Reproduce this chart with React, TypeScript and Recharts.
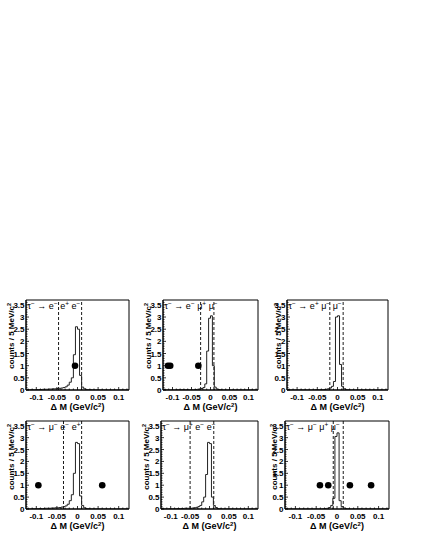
import React from "react";
import { ComposedChart, Line, Scatter, XAxis, YAxis, ReferenceLine, ReferenceArea } from "recharts";

const FONT = "'Liberation Sans', Arial, Helvetica, sans-serif";

// histogram bins: 5 MeV/c^2 wide, first bin starts at -0.125 GeV/c^2
const BIN_START = -0.125;
const BIN_WIDTH = 0.005;

// signal MC shapes (50 bins each)
const HIST_EEE = [
  0, 0, 0.01, 0.01, 0.01, 0.02, 0.02, 0.02, 0.03, 0.03,
  0.03, 0.04, 0.04, 0.05, 0.05, 0.06, 0.07, 0.08, 0.1, 0.13,
  0.2, 0.32, 0.5, 1.45, 2.6, 2.5, 0.6, 0.12, 0.05, 0.02,
  0.01, 0.01, 0, 0, 0, 0, 0, 0, 0, 0,
  0, 0, 0, 0, 0, 0, 0, 0, 0, 0,
];
const HIST_EMM = [
  0, 0, 0, 0, 0, 0, 0, 0.01, 0.01, 0.01,
  0.01, 0.01, 0.01, 0.01, 0.01, 0.01, 0.01, 0.02, 0.03, 0.04,
  0.06, 0.1, 0.25, 1.6, 2.95, 3.05, 1.0, 0.12, 0.04, 0.02,
  0.01, 0, 0, 0, 0, 0, 0, 0, 0, 0,
  0, 0, 0, 0, 0, 0, 0, 0, 0, 0,
];
const HIST_EPMM = [
  0, 0, 0, 0, 0, 0, 0, 0, 0, 0,
  0, 0, 0, 0, 0.01, 0.01, 0.01, 0.01, 0.02, 0.03,
  0.05, 0.08, 0.15, 0.35, 3.0, 3.05, 1.05, 0.15, 0.05, 0.02,
  0.01, 0, 0, 0, 0, 0, 0, 0, 0, 0,
  0, 0, 0, 0, 0, 0, 0, 0, 0, 0,
];
const HIST_MEE = [
  0, 0, 0, 0.01, 0.01, 0.01, 0.02, 0.02, 0.02, 0.03,
  0.03, 0.03, 0.04, 0.04, 0.05, 0.05, 0.06, 0.08, 0.1, 0.13,
  0.2, 0.35, 0.6, 1.5, 2.8, 2.75, 0.55, 0.15, 0.05, 0.02,
  0.01, 0, 0, 0, 0, 0, 0, 0, 0, 0,
  0, 0, 0, 0, 0, 0, 0, 0, 0, 0,
];
const HIST_MPEE = [
  0, 0, 0, 0, 0.01, 0.01, 0.01, 0.01, 0.02, 0.02,
  0.02, 0.02, 0.03, 0.03, 0.03, 0.03, 0.04, 0.05, 0.07, 0.1,
  0.15, 0.3, 0.5, 1.45, 2.8, 2.75, 0.5, 0.15, 0.06, 0.02,
  0.01, 0, 0, 0, 0, 0, 0, 0, 0, 0,
  0, 0, 0, 0, 0, 0, 0, 0, 0, 0,
];
const HIST_MMM = [
  0, 0, 0, 0, 0, 0, 0, 0, 0, 0,
  0, 0, 0, 0, 0, 0, 0, 0, 0.01, 0.02,
  0.03, 0.06, 0.15, 0.45, 3.05, 3.2, 0.35, 0.1, 0.04, 0.02,
  0.01, 0, 0, 0, 0, 0, 0, 0, 0, 0,
  0, 0, 0, 0, 0, 0, 0, 0, 0, 0,
];

// observed events (delta M, counts)
const EVENTS_EEE = [{ dm: -0.006, n: 1 }];
const EVENTS_EMM = [{ dm: -0.112, n: 1 }, { dm: -0.106, n: 1 }, { dm: -0.032, n: 1 }];
const EVENTS_EPMM: { dm: number; n: number }[] = [];
const EVENTS_MEE = [{ dm: -0.095, n: 1 }, { dm: 0.06, n: 1 }];
const EVENTS_MPEE: { dm: number; n: number }[] = [];
const EVENTS_MMM = [{ dm: -0.041, n: 1 }, { dm: -0.021, n: 1 }, { dm: 0.031, n: 1 }, { dm: 0.082, n: 1 }];

// signal region boundaries
const CUTS_EEE = [-0.046, 0.01];
const CUTS_EMM = [-0.026, 0.009];
const CUTS_EPMM = [-0.019, 0.014];
const CUTS_MEE = [-0.034, 0.01];
const CUTS_MPEE = [-0.05, 0.011];
const CUTS_MMM = [-0.009, 0.015];

// titles: [particle, charge]
const TITLE_EEE = [["τ", "-"], ["→", ""], ["e", "-"], ["e", "+"], ["e", "-"]];
const TITLE_EMM = [["τ", "-"], ["→", ""], ["e", "-"], ["μ", "+"], ["μ", "-"]];
const TITLE_EPMM = [["τ", "-"], ["→", ""], ["e", "+"], ["μ", "-"], ["μ", "-"]];
const TITLE_MEE = [["τ", "-"], ["→", ""], ["μ", "-"], ["e", "-"], ["e", "+"]];
const TITLE_MPEE = [["τ", "-"], ["→", ""], ["μ", "+"], ["e", "-"], ["e", "-"]];
const TITLE_MMM = [["τ", "-"], ["→", ""], ["μ", "-"], ["μ", "+"], ["μ", "-"]];

const X_DOMAIN = [-0.125, 0.125];
const Y_DOMAIN = [0, 3.7];
const X_TICKS = Array.from({ length: 25 }, (_, i) => Math.round((i - 12) * 10) / 1000);
const Y_TICKS = Array.from({ length: 37 }, (_, i) => i / 10);

const PAD_L = 30;
const PAD_T = 12;
const PAD_R = 8;
const PAD_B = 28;

const PANELS = [
  { left: 26, top: 300, w: 103, h: 90, hist: HIST_EEE, events: EVENTS_EEE, cuts: CUTS_EEE, title: TITLE_EEE, yOff: 12 },
  { left: 163, top: 300, w: 95, h: 90, hist: HIST_EMM, events: EVENTS_EMM, cuts: CUTS_EMM, title: TITLE_EMM, yOff: 12 },
  { left: 287, top: 300, w: 101, h: 90, hist: HIST_EPMM, events: EVENTS_EPMM, cuts: CUTS_EPMM, title: TITLE_EPMM, yOff: 6 },
  { left: 26, top: 421, w: 103, h: 88, hist: HIST_MEE, events: EVENTS_MEE, cuts: CUTS_MEE, title: TITLE_MEE, yOff: 12 },
  { left: 161, top: 421, w: 97, h: 88, hist: HIST_MPEE, events: EVENTS_MPEE, cuts: CUTS_MPEE, title: TITLE_MPEE, yOff: 12 },
  { left: 285, top: 421, w: 104, h: 88, hist: HIST_MMM, events: EVENTS_MMM, cuts: CUTS_MMM, title: TITLE_MMM, yOff: 8 },
];

const fmt = (v: number) => String(Math.round(v * 1000) / 1000);

const XTick = (props: any) => {
  const { x, y, payload } = props;
  const v = payload.value;
  const major = Math.abs(v * 20 - Math.round(v * 20)) < 1e-6;
  return (
    <g>
      <line x1={x} x2={x} y1={y} y2={y - (major ? 3 : 1.5)} stroke="#000" strokeWidth={0.8} />
      {major && (
        <text x={x} y={y + 10} textAnchor="middle" fontSize={8} fontWeight="bold" fontFamily={FONT} fill="#000">
          {fmt(v)}
        </text>
      )}
    </g>
  );
};

const YTick = (props: any) => {
  const { x, y, payload } = props;
  const v = payload.value;
  const major = Math.abs(v * 2 - Math.round(v * 2)) < 1e-6;
  return (
    <g>
      <line x1={x} x2={x + (major ? 3 : 1.5)} y1={y} y2={y} stroke="#000" strokeWidth={0.8} />
      {major && (
        <text x={x - 1.5} y={y + 3} textAnchor="end" fontSize={8} fontWeight="bold" fontFamily={FONT} fill="#000">
          {fmt(v)}
        </text>
      )}
    </g>
  );
};

// title with raised charge signs; every base glyph carries its own baseline reset
const titleSpans = (parts: string[][]) => {
  const out: React.ReactNode[] = [];
  let raised = false;
  parts.forEach(([b, s], i) => {
    out.push(
      <tspan key={"b" + i} dy={raised ? 3.5 : 0} dx={i > 0 ? 2.5 : 0}>
        {b}
      </tspan>
    );
    raised = false;
    if (s) {
      out.push(
        <tspan key={"s" + i} dy={-3.5} fontSize={6.5}>
          {s === "-" ? "−" : "+"}
        </tspan>
      );
      raised = true;
    }
  });
  return out;
};

const Panel = ({ cfg }: { cfg: any }) => {
  const hist = cfg.hist.map((v: number, i: number) => ({ x: BIN_START + i * BIN_WIDTH, y: v }));
  hist.push({ x: BIN_START + cfg.hist.length * BIN_WIDTH, y: cfg.hist[cfg.hist.length - 1] });
  const pts = cfg.events.map((e: any) => ({ x: e.dm, y: e.n }));

  const texts = (p: any) => {
    const vb = p.viewBox;
    return (
      <g>
        <text x={vb.x + 1.5} y={vb.y + 9} textAnchor="start" fontSize={9} fontFamily={FONT} fill="#000">
          {titleSpans(cfg.title)}
        </text>
        <text
          transform={`translate(${vb.x - cfg.yOff}, ${vb.y + 3}) rotate(-90)`}
          textAnchor="end"
          fontSize={8}
          fontWeight="bold"
          fontFamily={FONT}
          fill="#000"
        >
          <tspan>counts / 5 MeV/c</tspan>
          <tspan dy={-3} fontSize={5.5}>2</tspan>
        </text>
        <text
          x={vb.x + vb.width / 2}
          y={vb.y + vb.height + 20}
          textAnchor="middle"
          fontSize={9}
          fontWeight="bold"
          fontFamily={FONT}
          fill="#000"
        >
          <tspan>Δ M (GeV/c</tspan>
          <tspan dy={-3} fontSize={6}>2</tspan>
          <tspan dy={3}>)</tspan>
        </text>
      </g>
    );
  };

  return (
    <div style={{ position: "absolute", left: cfg.left - PAD_L, top: cfg.top - PAD_T }}>
      <ComposedChart
        width={cfg.w + PAD_L + PAD_R}
        height={cfg.h + PAD_T + PAD_B}
        margin={{ top: PAD_T, right: PAD_R, bottom: 0, left: 0 }}
      >
        <XAxis
          type="number"
          dataKey="x"
          domain={X_DOMAIN}
          ticks={X_TICKS}
          interval={0}
          allowDataOverflow
          height={PAD_B}
          tickSize={0}
          tickMargin={0}
          tickLine={false}
          axisLine={{ stroke: "#000" }}
          tick={(p: any) => <XTick {...p} />}
        />
        <YAxis
          type="number"
          domain={Y_DOMAIN}
          ticks={Y_TICKS}
          interval={0}
          allowDataOverflow
          width={PAD_L}
          tickSize={0}
          tickMargin={0}
          tickLine={false}
          axisLine={{ stroke: "#000" }}
          tick={(p: any) => <YTick {...p} />}
        />
        <ReferenceArea
          x1={X_DOMAIN[0]}
          x2={X_DOMAIN[1]}
          y1={Y_DOMAIN[0]}
          y2={Y_DOMAIN[1]}
          fill="none"
          fillOpacity={0}
          stroke="#000"
          strokeWidth={1}
          label={texts}
        />
        {cfg.cuts.map((c: number) => (
          <ReferenceLine key={c} x={c} stroke="#000" strokeWidth={0.9} strokeDasharray="3 2" />
        ))}
        <Line
          data={hist}
          dataKey="y"
          type="stepAfter"
          stroke="#222"
          strokeWidth={1}
          dot={false}
          activeDot={false}
          isAnimationActive={false}
        />
        <Scatter
          data={pts}
          dataKey="y"
          isAnimationActive={false}
          shape={(p: any) => <circle cx={p.cx} cy={p.cy} r={3.3} fill="#000" />}
        />
      </ComposedChart>
    </div>
  );
}

export default function App() {
  return (
    <div style={{ position: "absolute", left: 0, top: 0, width: 425, height: 550, background: "#fff" }}>
      {PANELS.map((cfg, i) => (
        <Panel key={i} cfg={cfg} />
      ))}
    </div>
  );
}
